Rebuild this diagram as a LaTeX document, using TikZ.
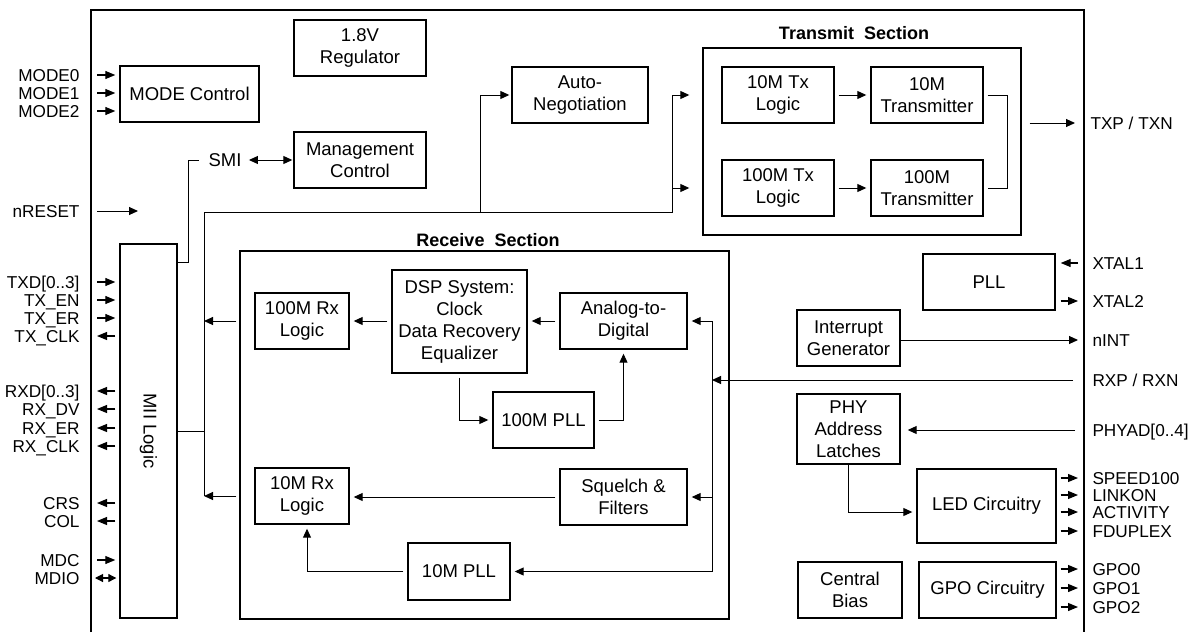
\documentclass[tikz,border=0pt]{standalone}
\usepackage{fontspec}
\setmainfont{Liberation Sans}
\usetikzlibrary{arrows.meta}

\begin{document}
\begin{tikzpicture}[x=1pt, y=-1pt, line width=1pt,
    every node/.style={font=\fontsize{18.5}{22}\selectfont},
    bx/.style 2 args={draw, line width=1.4pt, align=center, inner sep=0pt,
      minimum width=#1pt, minimum height=#2pt},
    title/.style={font=\fontsize{18}{20}\selectfont\bfseries},
    pinl/.style={inner sep=0pt, text height=12.5pt, text depth=0pt,
      font=\fontsize{17.2}{20}\selectfont},
    arr/.style={-{Triangle[length=9pt,width=8pt]}},
    gap/.style={shorten <=4pt, shorten >=4pt},
    pin/.style={line width=1.1pt, -{Triangle[length=10pt,width=8pt]}},
    pinb/.style={line width=1.1pt, {Triangle[length=8pt,width=8pt]}-{Triangle[length=8pt,width=8pt]}}]
  \useasboundingbox (0,0) rectangle (1196,632);
  \draw[line width=1.6pt] (91,632) |- (1084,10) -- (1084,632);

  \draw
    (484.5,435) node[bx={489}{368}] (rxsec) {}
    (862,141.5) node[bx={318}{187}] (txsec) {}
    (854,33) node[title] (txt) {Transmit\ \ Section}
    (488,240) node[title] (rxt) {Receive\ \ Section}
    (189.5,94) node[bx={139}{56}] (mode) {MODE Control}
    (360,48) node[bx={132}{56}] (reg) {1.8V\\Regulator}
    (360,160) node[bx={132}{56}] (mgmt) {Management\\Control}
    (148.5,431) node[bx={57}{374}] (mii) {}
    (148.5,431) node[rotate=-90] (miit) {MII Logic}
    (580,95) node[bx={136}{56}] (auto) {Auto-\\Negotiation}
    (778,95) node[bx={112}{56}] (tx10l) {10M Tx\\Logic}
    (927,95) node[bx={112}{56}] (tx10) {10M\\Transmitter}
    (778,188) node[bx={112}{56}] (tx100l) {100M Tx\\Logic}
    (927,188) node[bx={112}{56}] (tx100) {100M\\Transmitter}
    (302,321) node[bx={94}{56}] (rx100) {100M Rx\\Logic}
    (459.5,321.5) node[bx={135}{103}] (dsp) {DSP System:\\Clock\\Data Recovery\\Equalizer}
    (623.5,321) node[bx={127}{56}] (adc) {Analog-to-\\Digital}
    (543.5,420) node[bx={101}{56}] (pll100) {100M PLL}
    (302,496) node[bx={94}{56}] (rx10) {10M Rx\\Logic}
    (623.5,497) node[bx={127}{56}] (sq) {Squelch \&\\Filters}
    (459,571.5) node[bx={102}{57}] (pll10) {10M PLL}
    (989,282) node[bx={132}{56}] (pll) {PLL}
    (848.5,338) node[bx={103}{56}] (intg) {Interrupt\\Generator}
    (848.5,429) node[bx={103}{70}] (phy) {PHY\\Address\\Latches}
    (986.5,506) node[bx={139}{74}] (led) {LED Circuitry}
    (850,590) node[bx={104}{56}] (bias) {Central\\Bias}
    (987.5,590) node[bx={137}{56}] (gpo) {GPO Circuitry}
    (225,160) node[inner sep=0pt] (smi) {SMI};

  \draw
    (80,75) node[pinl, anchor=east] (mode0) {MODE0}
    (80,93) node[pinl, anchor=east] (mode1) {MODE1}
    (80,111) node[pinl, anchor=east] (mode2) {MODE2}
    (80,211) node[pinl, anchor=east] (nreset) {nRESET}
    (80,282) node[pinl, anchor=east] (txd) {TXD[0..3]}
    (80,300) node[pinl, anchor=east] (txen) {TX\_EN}
    (80,318) node[pinl, anchor=east] (txer) {TX\_ER}
    (80,336) node[pinl, anchor=east] (txclk) {TX\_CLK}
    (80,391) node[pinl, anchor=east] (rxd) {RXD[0..3]}
    (80,409) node[pinl, anchor=east] (rxdv) {RX\_DV}
    (80,428) node[pinl, anchor=east] (rxer) {RX\_ER}
    (80,446) node[pinl, anchor=east] (rxclk) {RX\_CLK}
    (80,503) node[pinl, anchor=east] (crs) {CRS}
    (80,521) node[pinl, anchor=east] (col) {COL}
    (80,560) node[pinl, anchor=east] (mdc) {MDC}
    (80,578) node[pinl, anchor=east] (mdio) {MDIO}
    (1090,123) node[pinl, anchor=west] (txp) {TXP / TXN}
    (1092,263) node[pinl, anchor=west] (xtal1) {XTAL1}
    (1092,301) node[pinl, anchor=west] (xtal2) {XTAL2}
    (1092,340) node[pinl, anchor=west] (nint) {nINT}
    (1092,380) node[pinl, anchor=west] (rxp) {RXP / RXN}
    (1092,430) node[pinl, anchor=west] (phyad) {PHYAD[0..4]}
    (1092,478) node[pinl, anchor=west] (spd) {SPEED100}
    (1092,495) node[pinl, anchor=west] (link) {LINKON}
    (1092,512) node[pinl, anchor=west] (act) {ACTIVITY}
    (1092,531) node[pinl, anchor=west] (fdx) {FDUPLEX}
    (1092,569) node[pinl, anchor=west] (gpo0) {GPO0}
    (1092,588) node[pinl, anchor=west] (gpo1) {GPO1}
    (1092,607) node[pinl, anchor=west] (gpo2) {GPO2};

  \coordinate (bt) at (204,212);
  \coordinate (tt) at (672,212);
  \coordinate (ab) at (480,212);
  \coordinate (rv) at (712,321);

  \begin{scope}[pin]
    \draw ([xshift=17pt]mode0.east) -- ([xshift=-4pt]mode.west |- mode0.east);
    \draw ([xshift=17pt]mode1.east) -- ([xshift=-4pt]mode.west |- mode1.east);
    \draw ([xshift=17pt]mode2.east) -- ([xshift=-4pt]mode.west |- mode2.east);
    \draw ([xshift=17pt]txd.east) -- ([xshift=-4pt]mii.west |- txd.east);
    \draw ([xshift=17pt]txen.east) -- ([xshift=-4pt]mii.west |- txen.east);
    \draw ([xshift=17pt]txer.east) -- ([xshift=-4pt]mii.west |- txer.east);
    \draw ([xshift=-4pt]mii.west |- txclk.east) -- ([xshift=17pt]txclk.east);
    \draw ([xshift=-4pt]mii.west |- rxd.east) -- ([xshift=17pt]rxd.east);
    \draw ([xshift=-4pt]mii.west |- rxdv.east) -- ([xshift=17pt]rxdv.east);
    \draw ([xshift=-4pt]mii.west |- rxer.east) -- ([xshift=17pt]rxer.east);
    \draw ([xshift=-4pt]mii.west |- rxclk.east) -- ([xshift=17pt]rxclk.east);
    \draw ([xshift=-4pt]mii.west |- crs.east) -- ([xshift=17pt]crs.east);
    \draw ([xshift=-4pt]mii.west |- col.east) -- ([xshift=17pt]col.east);
    \draw ([xshift=17pt]mdc.east) -- ([xshift=-4pt]mii.west |- mdc.east);
    \draw[pinb] ([xshift=15pt]mdio.east) -- ([xshift=-3pt]mii.west |- mdio.east);
    \draw ([xshift=-14pt]xtal1.west) -- ([xshift=5pt]pll.east |- xtal1.west);
    \draw ([xshift=5pt]pll.east |- xtal2.west) -- ([xshift=-14pt]xtal2.west);
    \draw ([xshift=4pt]led.east |- spd.west) -- ([xshift=-14pt]spd.west);
    \draw ([xshift=4pt]led.east |- link.west) -- ([xshift=-14pt]link.west);
    \draw ([xshift=4pt]led.east |- act.west) -- ([xshift=-14pt]act.west);
    \draw ([xshift=4pt]led.east |- fdx.west) -- ([xshift=-14pt]fdx.west);
    \draw ([xshift=4pt]gpo.east |- gpo0.west) -- ([xshift=-14pt]gpo0.west);
    \draw ([xshift=4pt]gpo.east |- gpo1.west) -- ([xshift=-14pt]gpo1.west);
    \draw ([xshift=4pt]gpo.east |- gpo2.west) -- ([xshift=-14pt]gpo2.west);
  \end{scope}

  \begin{scope}[arr]
    \draw ([xshift=17pt]nreset.east) -- ++(41,0);
    \draw[{Triangle[length=9pt,width=8pt]}-{Triangle[length=9pt,width=8pt]}, shorten <=7pt, shorten >=1pt]
      (smi.east) -- (mgmt.west |- smi.east);
    \draw[-, shorten >=9pt] ([yshift=-19pt]mii.north east) -- ++(11,0) |- (smi.west);
    \draw[-] (mii.east) -- (bt |- mii.east);
    \draw[-] (bt |- rx10) -- (bt) -- (tt) -- (tt |- tx10l);
    \draw (tt |- tx10l) -- ([xshift=-13pt]txsec.west |- tx10l);
    \draw (tt |- tx100l) -- ([xshift=-13pt]txsec.west |- tx100l);
    \draw[shorten >=2pt] (ab) |- (auto.west);
    \draw ([xshift=-3pt]rxsec.west |- rx100) -- (bt |- rx100);
    \draw ([xshift=-3pt]rxsec.west |- rx10) -- (bt |- rx10);
    \draw[gap] (tx10l) -- (tx10);
    \draw[gap] (tx100l) -- (tx100);
    \draw[-, gap] (tx10.east) -- ++(24,0) |- (tx100.east);
    \draw ([xshift=8pt]txsec.east |- txp.west) -- ([xshift=-15pt]txp.west);
    \draw[gap] (dsp.west |- rx100.east) -- (rx100.east);
    \draw[gap] (adc.west) -- (dsp.east |- adc.west);
    \draw[gap] (dsp.south) |- (pll100.west);
    \draw[gap] (pll100.east) -| (adc.south);
    \draw[gap] (sq.west) -- (rx10.east |- sq.west);
    \draw[gap] (pll10.west) -| ([xshift=5pt]rx10.south);
    \draw[-] (rv) -- (rv |- pll10);
    \draw[shorten >=4pt] (rv |- adc.east) -- (adc.east);
    \draw[shorten >=4pt] (rv |- sq.east) -- (sq.east);
    \draw[shorten >=4pt] (rv |- pll10.east) -- (pll10.east);
    \draw ([xshift=-19pt]rxp.west) -- (rv |- rxp.west);
    \draw (intg.east |- nint.west) -- ([xshift=-14pt]nint.west);
    \draw ([xshift=-17pt]phyad.west) -- ([xshift=7pt]phy.east |- phyad.west);
    \draw[shorten >=4pt] (phy.south) |- ([yshift=-6pt]led.west);
  \end{scope}
\end{tikzpicture}
\end{document}
